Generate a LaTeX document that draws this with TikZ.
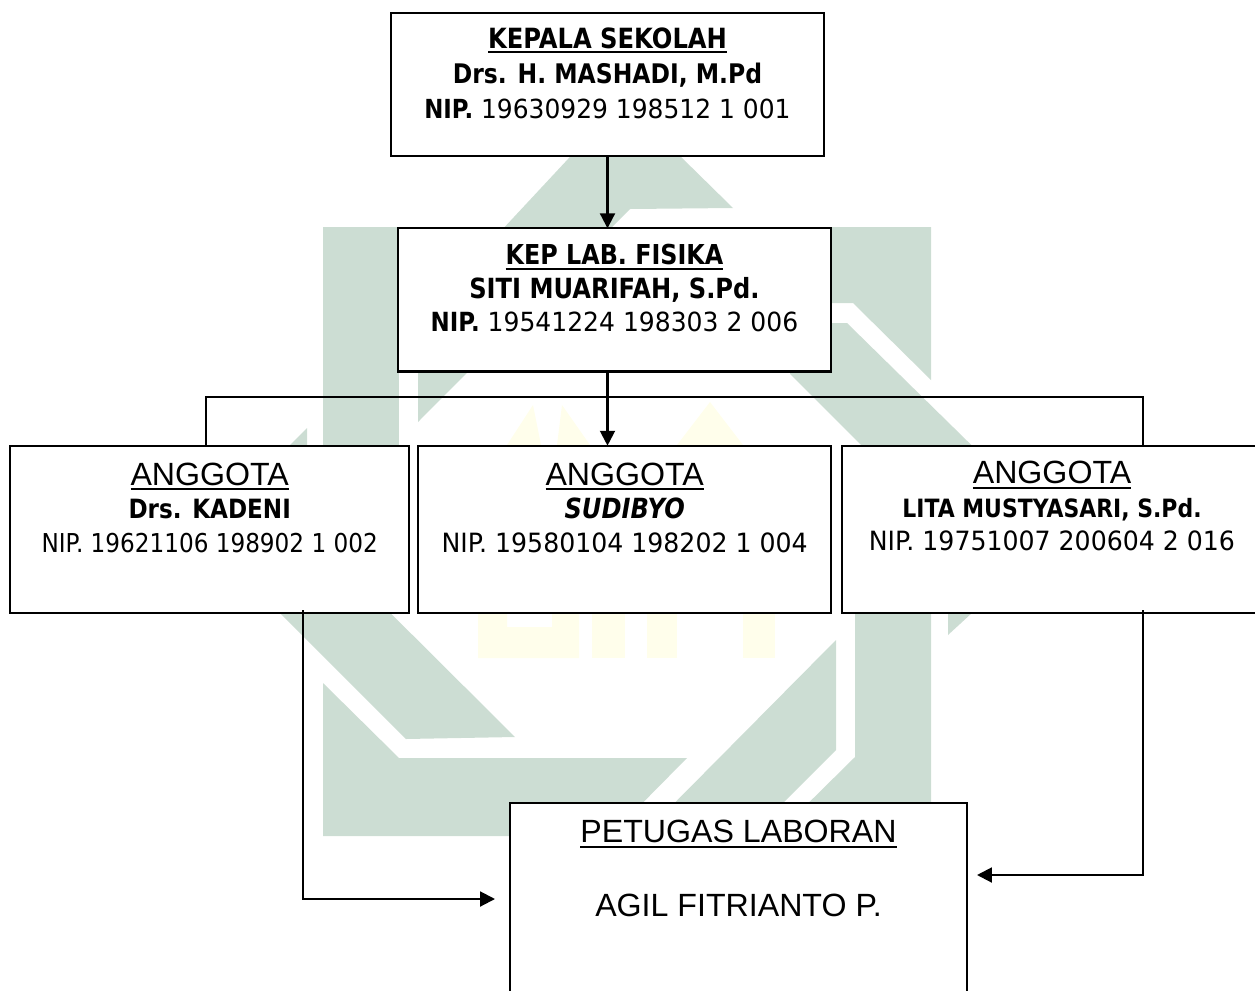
\documentclass[tikz,border=0pt]{standalone}
\usepackage{fontspec}
\usepackage{xcolor}
\usetikzlibrary{arrows.meta}
\newfontfamily\orgfont[FakeStretch=0.95,BoldFeatures={FakeStretch=0.87},BoldItalicFeatures={FakeStretch=0.87}]{DejaVu Sans}
\newfontfamily\orgnarrow[FakeStretch=0.89]{DejaVu Sans}
\newfontfamily\arialfont{Liberation Sans}
\definecolor{wmgreen}{RGB}{204,221,211}
\definecolor{wmyellow}{RGB}{255,254,235}
\newcommand{\sz}[1]{\fontsize{#1}{\baselineskip}\selectfont}
\newcommand{\orgul}[1]{\vtop{\hbox{#1}\kern1.6pt\hrule height 1.1pt}}
\tikzset{
  orgbox/.style={draw,fill=white,line width=1.2pt,inner sep=0pt,outer sep=0pt,align=center},
  orgline/.style={line width=1.1pt},
  orgarrow/.style={line width=1.2pt,-{Triangle[length=8.5pt,width=8.5pt]}}
}

\begin{document}
\begin{tikzpicture}[x=0.02cm,y=-0.02cm]
\useasboundingbox (0,0) rectangle (1255,991);
% watermark, green
\fill[wmgreen] (323,227) -- (399,227) -- (399,560) -- (323,560) -- cycle;
\fill[wmgreen] (323,683) -- (399,758) -- (687,758) -- (610,836) -- (323,836) -- cycle;
\fill[wmgreen] (307,428) -- (201,534) -- (406,739) -- (515,737) -- (307,530) -- cycle;
\fill[wmgreen] (418,422) -- (630,209) -- (733,208) -- (623,100) -- (418,320) -- cycle;
\fill[wmgreen] (800,227) -- (931,227) -- (931,380) -- (853,303) -- (800,303) -- cycle;
\fill[wmgreen] (790,323) -- (847,323) -- (1060,532) -- (948,635) -- (948,532) -- (790,374) -- cycle;
\fill[wmgreen] (855,530) -- (931,530) -- (931,836) -- (775,836) -- (855,757) -- cycle;
\fill[wmgreen] (836,640) -- (836,750) -- (730,856) -- (622,856) -- cycle;
% watermark, yellow
\fill[wmyellow] (507,445) -- (533,405) -- (541,445) -- cycle;
\fill[wmyellow] (557,445) -- (562,405) -- (590,445) -- cycle;
\fill[wmyellow] (677,445) -- (710,402) -- (743,445) -- cycle;
\fill[wmyellow] (478,613) -- (507,613) -- (507,627) -- (552,627) -- (552,613) -- (579,613) -- (579,658) -- (478,658) -- cycle;
\fill[wmyellow] (592,613) rectangle (625,658);
\fill[wmyellow] (647,613) rectangle (677,658);
\fill[wmyellow] (743,613) rectangle (775,658);
% kepala sekolah
\node[orgbox,minimum width=8.66cm,text height=60.3pt,text depth=21.4pt,
  font=\fontsize{14.95}{20.1}\selectfont\orgfont] (kepala) at (607.5,12.7) [anchor=north] {%
  \orgul{\bfseries\sz{15.85}KEPALA SEKOLAH}\\
  {\bfseries\sz{15.35}Drs. H. MASHADI, M.Pd}\\
  {\bfseries NIP.} 19630929 198512 1 001};
% kep lab
\node[orgbox,minimum width=8.66cm,text height=58.8pt,text depth=22.7pt,
  font=\fontsize{15}{19}\selectfont\orgfont] (fisika) at (614.5,228.3) [anchor=north] {%
  \orgul{\bfseries\sz{15.6}KEP LAB. FISIKA}\\
  {\bfseries\sz{15.8}SITI MUARIFAH, S.Pd.}\\
  {\bfseries NIP.} 19541224 198303 2 006};
% anggota
\node[orgbox,minimum width=7.98cm,text height=60.7pt,text depth=34.6pt,
  font=\fontsize{15.1}{19.1}\selectfont\orgfont] (kadeni) at (209.7,445.7) [anchor=north] {%
  \orgul{\arialfont\sz{18.3}ANGGOTA}\\
  {\bfseries\sz{15.1}Drs. KADENI}\\
  {\orgnarrow\sz{14.8}NIP. 19621106 198902 1 002}};
\node[orgbox,minimum width=8.26cm,text height=60.7pt,text depth=34.6pt,
  font=\fontsize{15.1}{19.1}\selectfont\orgfont] (sudibyo) at (624.7,445.7) [anchor=north] {%
  \orgul{\arialfont\sz{18.3}ANGGOTA}\\
  {\bfseries\itshape\sz{15.8}SUDIBYO}\\
  NIP. 19580104 198202 1 004};
\node[orgbox,minimum width=8.4cm,text height=59.7pt,text depth=35.5pt,
  font=\fontsize{15.1}{19}\selectfont\orgfont] (lita) at (1052,445.7) [anchor=north] {%
  \orgul{\arialfont\sz{18.3}ANGGOTA}\\
  {\bfseries\sz{14.35}LITA MUSTYASARI, S.Pd.}\\
  NIP. 19751007 200604 2 016};
% petugas laboran
\node[orgbox,minimum width=9.14cm,text height=64.6pt,text depth=47pt,
  font=\fontsize{18.3}{42}\selectfont\arialfont] (laboran) at (738.5,803) [anchor=north] {%
  \orgul{PETUGAS LABORAN}\\
  AGIL FITRIANTO P.};
% connectors
\coordinate (busL) at (206,397);
\coordinate (busR) at (1143,397);
\coordinate (startL) at (303,610);
\coordinate (turnL) at (303,899);
\coordinate (tipL) at (495,899);
\coordinate (startR) at (1143,610);
\coordinate (turnR) at (1143,875);
\coordinate (tipR) at (977,875);
\draw[orgarrow] (kepala.south) -- (kepala.south |- fisika.north);
\draw[orgarrow] (kepala.south |- fisika.south) -- (kepala.south |- sudibyo.north);
\draw[orgline] (busL |- kadeni.north) -- (busL) -- (busR) -- (busR |- lita.north);
\draw[orgarrow] (startL) -- (turnL) -- (tipL);
\draw[orgarrow] (startR) -- (turnR) -- (tipR);
\end{tikzpicture}
\end{document}
